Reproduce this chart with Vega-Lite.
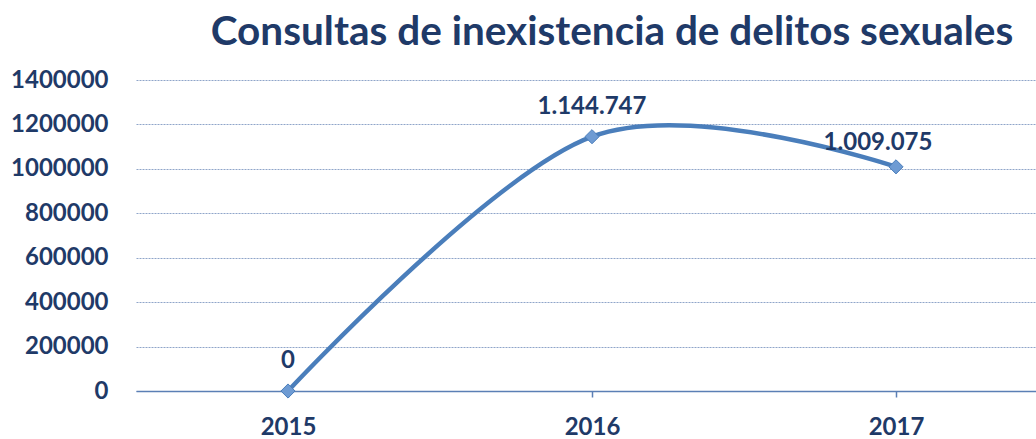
{
  "$schema": "https://vega.github.io/schema/vega-lite/v6.json",
  "autosize": "none",
  "width": 900,
  "height": 311,
  "padding": {"left": 136, "top": 80, "right": 0, "bottom": 48},
  "background": "white",
  "title": {
    "text": "Consultas de inexistencia de delitos sexuales",
    "font": "Lato",
    "fontSize": 40.5,
    "fontWeight": "bold",
    "color": "#1F3A68",
    "anchor": "middle",
    "dx": 26,
    "baseline": "alphabetic",
    "offset": -17
  },
  "config": {
    "view": {"stroke": null},
    "font": "Lato"
  },
  "data": {
    "values": [
      {"year": 2015, "value": 0, "label": "0"},
      {"year": 2016, "value": 1144747, "label": "1.144.747"},
      {"year": 2017, "value": 1009075, "label": "1.009.075"}
    ]
  },
  "encoding": {
    "x": {
      "field": "year",
      "type": "quantitative",
      "scale": {"domain": [2014.5, 2017.4605], "nice": false, "zero": false},
      "axis": {
        "title": null,
        "values": [2015, 2016, 2017],
        "format": "d",
        "grid": false,
        "domainColor": "#5B7FB5",
        "domainWidth": 1.5,
        "tickColor": "#5B7FB5",
        "tickWidth": 1.5,
        "tickSize": 6,
        "labelPadding": 18,
        "labelFont": "Lato",
        "labelFontSize": 24,
        "labelFontWeight": "bold",
        "labelColor": "#1F3A68",
        "labelFlush": false,
        "encode": {"ticks": {"update": {"y": {"value": -6}}}}
      }
    },
    "y": {
      "field": "value",
      "type": "quantitative",
      "scale": {"domain": [0, 1400000], "nice": false},
      "axis": {
        "title": null,
        "values": [0, 200000, 400000, 600000, 800000, 1000000, 1200000, 1400000],
        "format": "d",
        "domain": false,
        "ticks": false,
        "labelPadding": 28,
        "labelFont": "Lato",
        "labelFontSize": 24,
        "labelFontWeight": "bold",
        "labelColor": "#1F3A68",
        "grid": true,
        "gridColor": "#8FA5C9",
        "gridDash": [2, 1],
        "gridWidth": 1
      }
    }
  },
  "layer": [
    {
      "mark": {"type": "line", "interpolate": "cardinal", "color": "#4A7EBB", "strokeWidth": 4.5, "strokeCap": "round"}
    },
    {
      "mark": {"type": "point", "shape": "diamond", "size": 200, "filled": true, "fill": "#6E9BD3", "stroke": "#4A7EBB", "strokeWidth": 1, "opacity": 1}
    },
    {
      "transform": [{"filter": "datum.year < 2017"}],
      "mark": {"type": "text", "font": "Lato", "fontSize": 24, "fontWeight": "bold", "color": "#1F3A68", "dy": -30, "baseline": "middle"},
      "encoding": {"text": {"field": "label"}}
    },
    {
      "transform": [{"filter": "datum.year == 2017"}],
      "mark": {"type": "text", "font": "Lato", "fontSize": 24, "fontWeight": "bold", "color": "#1F3A68", "dy": -24, "dx": -18, "baseline": "middle"},
      "encoding": {"text": {"field": "label"}}
    }
  ]
}
